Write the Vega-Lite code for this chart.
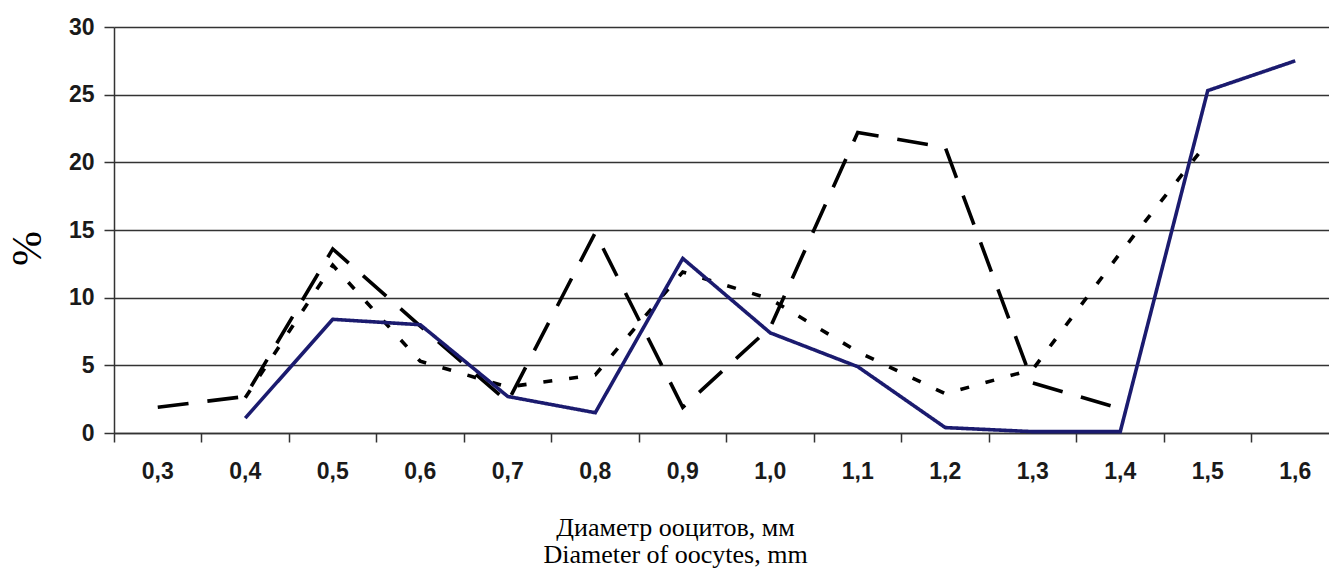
{
  "$schema": "https://vega.github.io/schema/vega-lite/v6.json",
  "width": 1215,
  "height": 406,
  "autosize": {"type": "none"},
  "padding": {"left": 114, "top": 27, "right": 0, "bottom": 135},
  "background": "white",
  "config": {"view": {"stroke": null}},
  "data": {
    "values": [
      {"d": "0,3", "pct": 1.9, "s": "a_dash"},
      {"d": "0,4", "pct": 2.7, "s": "a_dash"},
      {"d": "0,5", "pct": 13.6, "s": "a_dash"},
      {"d": "0,6", "pct": 7.9, "s": "a_dash"},
      {"d": "0,7", "pct": 2.3, "s": "a_dash"},
      {"d": "0,8", "pct": 14.8, "s": "a_dash"},
      {"d": "0,9", "pct": 1.9, "s": "a_dash"},
      {"d": "1,0", "pct": 7.8, "s": "a_dash"},
      {"d": "1,1", "pct": 22.2, "s": "a_dash"},
      {"d": "1,2", "pct": 21.1, "s": "a_dash"},
      {"d": "1,3", "pct": 3.7, "s": "a_dash"},
      {"d": "1,4", "pct": 1.8, "s": "a_dash"},
      {"d": "0,4", "pct": 2.6, "s": "b_dot"},
      {"d": "0,5", "pct": 12.4, "s": "b_dot"},
      {"d": "0,6", "pct": 5.3, "s": "b_dot"},
      {"d": "0,7", "pct": 3.4, "s": "b_dot"},
      {"d": "0,8", "pct": 4.3, "s": "b_dot"},
      {"d": "0,9", "pct": 11.9, "s": "b_dot"},
      {"d": "1,0", "pct": 9.9, "s": "b_dot"},
      {"d": "1,1", "pct": 6.0, "s": "b_dot"},
      {"d": "1,2", "pct": 2.9, "s": "b_dot"},
      {"d": "1,3", "pct": 4.7, "s": "b_dot"},
      {"d": "1,4", "pct": 13.3, "s": "b_dot"},
      {"d": "1,5", "pct": 21.5, "s": "b_dot"},
      {"d": "0,4", "pct": 1.1, "s": "c_solid"},
      {"d": "0,5", "pct": 8.4, "s": "c_solid"},
      {"d": "0,6", "pct": 8.0, "s": "c_solid"},
      {"d": "0,7", "pct": 2.7, "s": "c_solid"},
      {"d": "0,8", "pct": 1.5, "s": "c_solid"},
      {"d": "0,9", "pct": 12.9, "s": "c_solid"},
      {"d": "1,0", "pct": 7.4, "s": "c_solid"},
      {"d": "1,1", "pct": 4.9, "s": "c_solid"},
      {"d": "1,2", "pct": 0.4, "s": "c_solid"},
      {"d": "1,3", "pct": 0.1, "s": "c_solid"},
      {"d": "1,4", "pct": 0.1, "s": "c_solid"},
      {"d": "1,5", "pct": 25.3, "s": "c_solid"},
      {"d": "1,6", "pct": 27.5, "s": "c_solid"}
    ]
  },
  "mark": {"type": "line", "strokeWidth": 3.6},
  "encoding": {
    "x": {
      "field": "d",
      "type": "ordinal",
      "sort": ["0,3", "0,4", "0,5", "0,6", "0,7", "0,8", "0,9", "1,0", "1,1", "1,2", "1,3", "1,4", "1,5", "1,6"],
      "scale": {"type": "band", "paddingInner": 0, "paddingOuter": 0, "range": [0, 1225]},
      "axis": {
        "title": ["Диаметр ооцитов, мм", "Diameter of oocytes, mm"],
        "titleFont": "Liberation Serif",
        "titleFontWeight": "normal",
        "titleFontSize": 26,
        "titleColor": "#000000",
        "titleX": 561,
        "titleY": 102,
        "titleAlign": "center",
        "titleBaseline": "alphabetic",
        "titleLineHeight": 27,
        "bandPosition": 0,
        "labelFont": "Liberation Sans",
        "labelFontWeight": "bold",
        "labelFontSize": 23,
        "labelColor": "#1a1a1a",
        "labelPadding": 18,
        "labelAngle": 0,
        "tickSize": 9,
        "tickColor": "#333333",
        "tickWidth": 1.5,
        "domainColor": "#333333",
        "domainWidth": 1.5,
        "grid": false
      }
    },
    "y": {
      "field": "pct",
      "type": "quantitative",
      "scale": {"domain": [0, 30], "nice": false},
      "axis": {
        "values": [0, 5, 10, 15, 20, 25, 30],
        "title": "%",
        "titleFont": "Liberation Serif",
        "titleFontWeight": "normal",
        "titleFontSize": 42,
        "titleColor": "#000000",
        "titleX": -87,
        "titleY": 221,
        "titleAlign": "center",
        "titleBaseline": "middle",
        "labelFont": "Liberation Sans",
        "labelFontWeight": "bold",
        "labelFontSize": 23,
        "labelColor": "#1a1a1a",
        "labelPadding": 10,
        "tickSize": 10,
        "tickColor": "#333333",
        "tickWidth": 1.5,
        "domainColor": "#333333",
        "domainWidth": 1.5,
        "grid": true,
        "gridColor": "#333333",
        "gridWidth": 1.5,
        "gridOpacity": 1
      }
    },
    "color": {
      "field": "s",
      "type": "nominal",
      "scale": {"domain": ["a_dash", "b_dot", "c_solid"], "range": ["#000000", "#000000", "#1b1b6f"]},
      "legend": null
    },
    "strokeDash": {
      "field": "s",
      "type": "nominal",
      "scale": {"domain": ["a_dash", "b_dot", "c_solid"], "range": [[31, 19], [9, 17], [1, 0]]},
      "legend": null
    }
  }
}
